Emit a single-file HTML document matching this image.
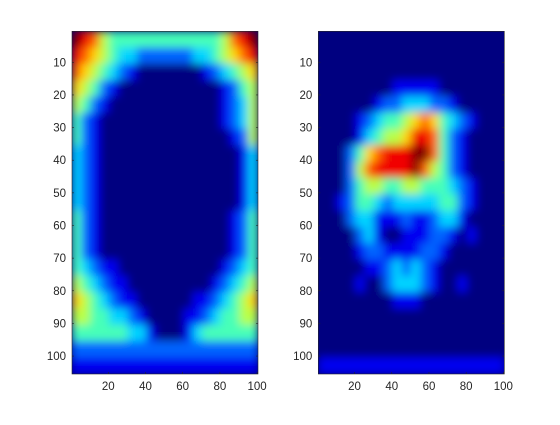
<!DOCTYPE html>
<html><head><meta charset="utf-8"><style>
body{margin:0;background:#fff;width:560px;height:420px;overflow:hidden}
text{font-family:"Liberation Sans",sans-serif;font-size:11.5px;fill:#262626}
</style></head><body>
<svg id="fig" width="560" height="420" xmlns="http://www.w3.org/2000/svg">
<defs>
<filter id="blur" x="0" y="0" width="1" height="1"><feGaussianBlur stdDeviation="4.5" edgeMode="duplicate"/></filter>
<clipPath id="clipL"><rect x="72" y="31.3" width="186" height="342.7"/></clipPath>
<clipPath id="clipR"><rect x="318.3" y="31.3" width="186" height="342.7"/></clipPath>
</defs>
</svg>
<script>
// levels 0..9, 20 columns (5 units each) x 21 rows (5 units each)
const leftGrid = [
"98754444444444445789","87654332222223345678","76543210000000123456","65421000000000001245",
"54210000000000001235","42100000000000001235","42100000000000000125","32100000000000000013",
"32100000000000000013","32100000000000000013","32100000000000000013","42100000000000000124",
"42100000000000000124","42100000000000000124","43211000000000001234","54321100000000012345",
"65432110000001123456","55443321000011234455","44444433100013444444","22222222222222222222",
"11111111111111111111"];
const rightGrid = [
"00000000000000000000","00000000000000000000","00000000000000000000","00000000111110000000",
"00000012233322100000","00001234456764321000","00001345568874210000","00024678889974210000",
"00025788889754210000","00024554455444321000","00124432333334421000","00023311121123310000",
"00002310011122101000","00001221111221000000","00000112323210000000","00001002333210010000",
"00000000111000000000","00000000000000000000","00000000000000000000","00000000000000000000",
"11111111111111111111"];
const xTicks = [20,40,60,80,100];
const yTicks = [10,20,30,40,50,60,70,80,90,100];
const NS="http://www.w3.org/2000/svg";
const svg=document.getElementById('fig');
function jet(v){const c=x=>Math.round(255*Math.max(0,Math.min(1,x)));
 return `rgb(${c(1.5-Math.abs(4*v-3))},${c(1.5-Math.abs(4*v-2))},${c(1.5-Math.abs(4*v-1))})`;}
function el(t,a){const e=document.createElementNS(NS,t);for(const k in a)e.setAttribute(k,a[k]);return e;}
function drawAxes(grid,x0,clip,name){
 const W=186,top=31.3,H=342.7;
 const sx=u=>x0+(u-0.5)*W/100, sy=u=>top+(u-0.5)*H/105;
 const g=el('g',{'clip-path':`url(#${clip})`});
 
 
 g.appendChild(el('rect',{x:x0,y:top,width:W,height:H,fill:jet(0)}));
 const inner=el('g',{filter:'url(#blur)'});
 grid.forEach((row,r)=>{[...row].forEach((ch,c)=>{
  const cell=el('rect',{x:sx(c*5+0.5)-0.3,y:sy(r*5+0.5)-0.3,width:5*W/100+0.6,height:5*H/105+0.6,fill:jet(+ch/9)});
  
  
  inner.appendChild(cell);});});
 g.appendChild(inner);svg.appendChild(g);
 const frame=el('rect',{x:x0,y:top,width:W,height:H,fill:'none',stroke:'#262626','stroke-width':0.6});
 
 
 svg.appendChild(frame);
 xTicks.forEach(t=>{const x=sx(t);
  svg.appendChild(el('line',{x1:x,x2:x,y1:top+H,y2:top+H-2,stroke:'#262626','stroke-width':0.6}));
  const tx=el('text',{x:x,y:top+H+16,'text-anchor':'middle'});tx.textContent=t;
  
  
  svg.appendChild(tx);});
 yTicks.forEach(t=>{const y=sy(t);
  svg.appendChild(el('line',{x1:x0,x2:x0+2,y1:y,y2:y,stroke:'#262626','stroke-width':0.6}));
  svg.appendChild(el('line',{x1:x0+W,x2:x0+W-2,y1:y,y2:y,stroke:'#262626','stroke-width':0.6}));
  const tx=el('text',{x:x0-6,y:y+4,'text-anchor':'end'});tx.textContent=t;
  
  
  svg.appendChild(tx);});
}
drawAxes(leftGrid,72,'clipL','left-plot');
drawAxes(rightGrid,318.3,'clipR','right-plot');
</script>
</body></html>
